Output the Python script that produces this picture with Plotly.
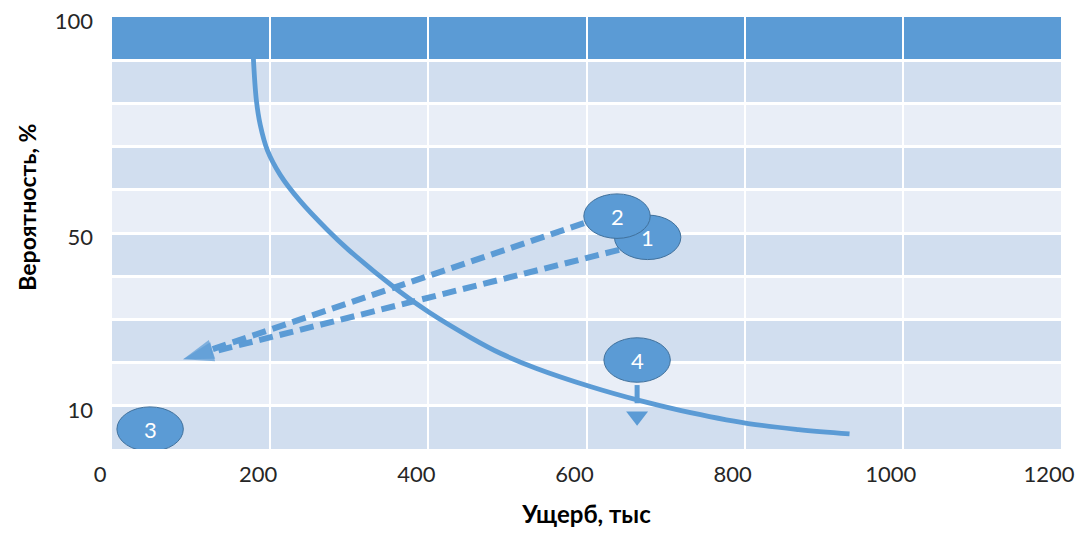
import plotly.graph_objects as go

# ---------------- data ----------------
# main risk curve (Ущерб vs Вероятность)
curve_x = [178.7, 182.5, 187.5, 196.4, 212.9, 237.0, 272.5, 299.1, 361.1, 400.4, 453.6, 491.7, 536.0, 605.7, 665.2, 719.7, 804.6, 868.0, 932.6]
curve_y = [90.7, 80.8, 75.0, 69.2, 63.4, 57.6, 50.7, 46.1, 36.8, 31.7, 25.8, 22.1, 18.7, 14.4, 11.3, 8.9, 5.9, 4.5, 3.5]

# numbered ellipse markers
ell_labels = ["1", "2", "3", "4"]
ell_x = [677.3, 638.6, 48.2, 664.0]
ell_y = [49.0, 53.9, 4.6, 20.6]

# dashed arrows from ellipses 1 and 2
arrow_start_x = [641.2, 596.8]
arrow_start_y = [46.1, 52.3]
arrow_end_x = 90.0
arrow_end_y = 20.8

# pointer below ellipse 4
pointer_x = 664.0
pointer_y = [14.8, 10.6]
pointer_tip_y = 7.6

# axes
x_ticks = [0, 200, 400, 600, 800, 1000, 1200]
y_ticks = [0, 10, 20, 30, 40, 50, 60, 70, 80, 90, 100]
y_ticktext = ["", "10", "", "", "", "50", "", "", "", "", "100"]

# table-like row bands
row_lo = [90, 80, 70, 60, 50, 40, 30, 20, 10, 0]
row_hi = [100, 90, 80, 70, 60, 50, 40, 30, 20, 10]

# ---------------- styles ----------------
BLUE = "#5B9BD5"
BLUE_DARK = "#41719C"
ROW_A = "#D1DEEF"
ROW_B = "#E9EEF7"
FONT = "Lato"
ELL_W = 84.0
ELL_H = 10.3

row_colors = [BLUE] + [ROW_A if i % 2 == 0 else ROW_B for i in range(9)]

fig = go.Figure()

for lo, hi, col in zip(row_lo, row_hi, row_colors):
    fig.add_shape(type="rect", xref="x domain", yref="y", x0=0, x1=1, y0=lo, y1=hi,
                  fillcolor=col, line_width=0, layer="below")

# curve
fig.add_trace(go.Scatter(x=curve_x, y=curve_y, mode="lines",
                         line=dict(color=BLUE, width=4.8, shape="spline", smoothing=1.0),
                         hoverinfo="skip", showlegend=False))

# dashed arrows
for sx, sy in zip(arrow_start_x, arrow_start_y):
    fig.add_trace(go.Scatter(x=[sx, arrow_end_x], y=[sy, arrow_end_y], mode="lines+markers",
                             line=dict(color=BLUE, width=6, dash="14px,7px"),
                             marker=dict(symbol="arrow", size=[0, 32], color=BLUE,
                                         angleref="previous", line_width=0),
                             hoverinfo="skip", showlegend=False))

# pointer under ellipse 4
fig.add_trace(go.Scatter(x=[pointer_x, pointer_x], y=pointer_y, mode="lines",
                         line=dict(color=BLUE, width=5), hoverinfo="skip", showlegend=False))
fig.add_trace(go.Scatter(x=[pointer_x], y=[pointer_tip_y], mode="markers",
                         marker=dict(symbol="triangle-down", size=19, color=BLUE, line_width=0),
                         hoverinfo="skip", showlegend=False))

# ellipses with labels
for lab, cx, cy in zip(ell_labels, ell_x, ell_y):
    fig.add_shape(type="circle", xref="x", yref="y",
                  x0=cx - ELL_W / 2, x1=cx + ELL_W / 2, y0=cy - ELL_H / 2, y1=cy + ELL_H / 2,
                  fillcolor=BLUE, line=dict(color=BLUE_DARK, width=1), layer="above")
    fig.add_annotation(x=cx, y=cy, xref="x", yref="y", text=lab, showarrow=False,
                       font=dict(family=FONT, size=22, color="white"))

# y-axis title
fig.add_annotation(x=-0.09, y=0.56, xref="paper", yref="paper", text="Вероятность, %",
                   textangle=-90, showarrow=False, xanchor="center", yanchor="middle",
                   font=dict(family=FONT, size=23, color="#000000", weight="bold"))

fig.update_layout(
    width=1092, height=537,
    margin=dict(l=112, r=31, t=17, b=88),
    paper_bgcolor="white", plot_bgcolor="white",
    font=dict(family=FONT, size=22, color="#262626"),
    showlegend=False,
    xaxis=dict(range=[0, 1200], tickvals=x_ticks, showgrid=True, gridcolor="white", gridwidth=2,
               zeroline=False, showline=False, ticks="", ticklabelshift=-12, ticklabelstandoff=10,
               automargin=False,
               title=dict(text="Ущерб, тыс", standoff=20,
                          font=dict(family=FONT, size=24, color="#000000", weight="bold"))),
    yaxis=dict(range=[0, 100], tickvals=y_ticks, ticktext=y_ticktext, showgrid=True,
               gridcolor="white", gridwidth=3, zeroline=False, showline=False, ticks="",
               ticklabelstandoff=18, ticklabelshift=4, automargin=False),
)

fig.write_html("out.html", config={"displayModeBar": False},
               post_script="document.body.style.margin='0px';")
